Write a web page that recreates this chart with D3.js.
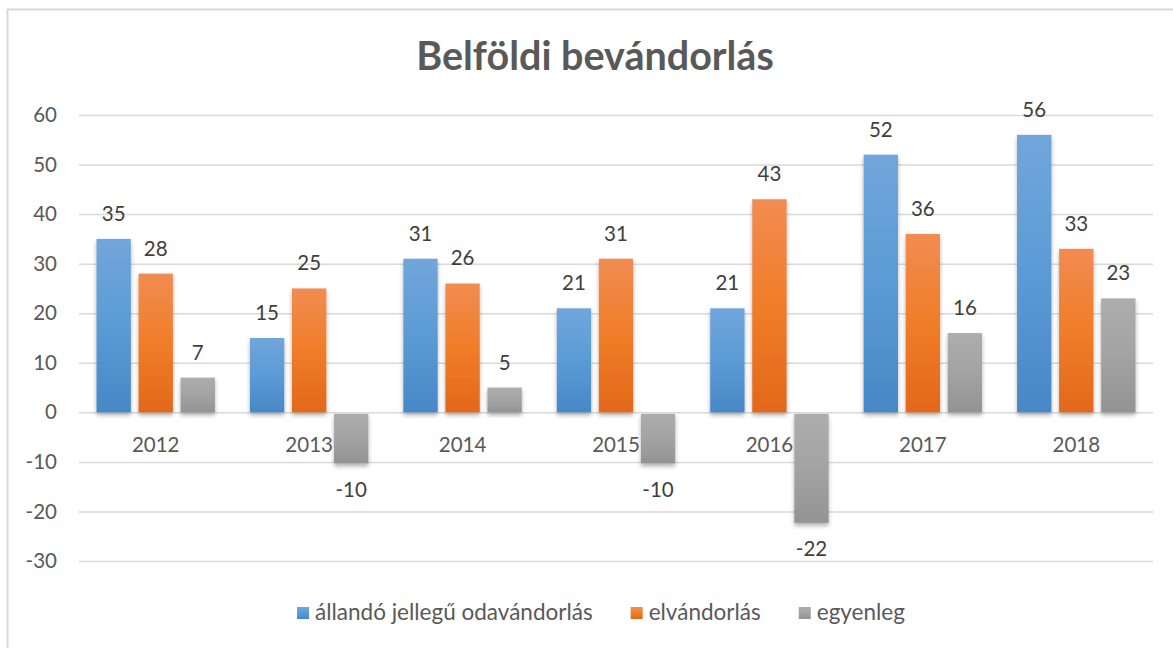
<!DOCTYPE html>
<html>
<head>
<meta charset="utf-8">
<script src="https://cdn.jsdelivr.net/npm/d3@7"></script>
<style>
  html, body { margin: 0; padding: 0; background: #fff; }
  svg { display: block; font-family: "Lato", "Open Sans", sans-serif; }
</style>
</head>
<body>
<div id="chart"></div>
<script>
const years = ["2012", "2013", "2014", "2015", "2016", "2017", "2018"];
const seriesNames = ["állandó jellegű odavándorlás", "elvándorlás", "egyenleg"];
const allando = [35, 15, 31, 21, 21, 52, 56];
const elvandorlas = [28, 25, 26, 31, 43, 36, 33];
const egyenleg = [7, -10, 5, -10, -22, 16, 23];
const yTicks = [-30, -20, -10, 0, 10, 20, 30, 40, 50, 60];

const seriesValues = [allando, elvandorlas, egyenleg];
// gradient stops (top, middle, bottom) per series
const colors = [
  ["#71a6db", "#5b9bd5", "#4887c6"],
  ["#f18c52", "#f07d28", "#e2681a"],
  ["#adadad", "#a3a3a3", "#939393"]
];

const width = 1173, height = 648;
const plotLeft = 79, plotRight = 1153;
const fontFamily = "Lato, 'Open Sans', sans-serif";

const svg = d3.select("#chart")
  .append("svg")
    .attr("width", width)
    .attr("height", height);

const defs = svg.append("defs");
colors.forEach((c, i) => {
  const g = defs.append("linearGradient")
    .attr("id", "grad" + i)
    .attr("x1", 0).attr("y1", 0).attr("x2", 0).attr("y2", 1);
  g.append("stop").attr("offset", "0%").attr("stop-color", c[0]);
  g.append("stop").attr("offset", "50%").attr("stop-color", c[1]);
  g.append("stop").attr("offset", "100%").attr("stop-color", c[2]);
});
defs.append("filter")
    .attr("id", "shadow")
    .attr("x", "-20%").attr("y", "-10%").attr("width", "140%").attr("height", "130%")
  .append("feDropShadow")
    .attr("dx", 0).attr("dy", 3)
    .attr("stdDeviation", 2)
    .attr("flood-color", "#000")
    .attr("flood-opacity", 0.3);

// chart border (right / bottom edges run off the picture)
svg.append("rect")
  .attr("x", 7.5).attr("y", 9.5)
  .attr("width", 1200).attr("height", 700)
  .attr("fill", "none")
  .attr("stroke", "#d9d9d9")
  .attr("stroke-width", 2);

svg.append("text")
  .attr("x", 595).attr("y", 70)
  .attr("text-anchor", "middle")
  .attr("font-size", "39.5px")
  .attr("font-weight", "700")
  .attr("fill", "#595959")
  .text("Belföldi bevándorlás");

const x0 = d3.scaleBand()
  .domain(years)
  .range([plotLeft, plotRight])
  .paddingInner(0.228)
  .paddingOuter(0.114);

const x1 = d3.scaleBand()
  .domain(d3.range(seriesNames.length))
  .range([0, x0.bandwidth()])
  .paddingInner(0.183);

const y = d3.scaleLinear()
  .domain([-30, 60])
  .range([561, 115]);

// gridlines + y labels
svg.append("g")
  .attr("transform", `translate(${plotLeft},0)`)
  .call(d3.axisLeft(y)
    .tickValues(yTicks)
    .tickFormat(d => String(d))
    .tickSize(-(plotRight - plotLeft))
    .tickPadding(22))
  .call(g => g.select(".domain").remove())
  .call(g => g.selectAll(".tick line").attr("stroke", "#d9d9d9").attr("stroke-width", 1.5))
  .call(g => g.selectAll(".tick text")
    .attr("fill", "#595959")
    .attr("font-size", "20.5px")
    .attr("font-family", fontFamily));

// category labels
svg.append("g")
  .attr("transform", `translate(0,${y(0)})`)
  .call(d3.axisBottom(x0).tickSize(0).tickPadding(25))
  .call(g => g.select(".domain").remove())
  .call(g => g.selectAll(".tick text")
    .attr("fill", "#595959")
    .attr("font-size", "20.5px")
    .attr("font-family", fontFamily));

const rows = [];
years.forEach((yr, i) => {
  seriesValues.forEach((vals, s) => rows.push({year: yr, s: s, v: vals[i]}));
});

svg.append("g")
  .selectAll("rect")
  .data(rows)
  .join("rect")
    .attr("x", d => x0(d.year) + x1(d.s))
    .attr("y", d => d.v >= 0 ? y(d.v) : y(0) + 1.5)
    .attr("width", x1.bandwidth())
    .attr("height", d => Math.abs(y(d.v) - y(0)))
    .attr("fill", d => `url(#grad${d.s})`)
    .attr("filter", "url(#shadow)");

svg.append("g")
  .selectAll("text")
  .data(rows)
  .join("text")
    .attr("x", d => x0(d.year) + x1(d.s) + x1.bandwidth() / 2)
    .attr("y", d => d.v >= 0 ? y(d.v) - 18 : y(d.v) + 35)
    .attr("text-anchor", "middle")
    .attr("font-size", "20.5px")
    .attr("fill", "#404040")
    .text(d => d.v);

// legend
const legend = svg.append("g");
const legendGap = 38;
let lx = 0;
seriesNames.forEach((name, i) => {
  const it = legend.append("g");
  it.append("rect")
    .attr("x", 0).attr("y", 607)
    .attr("width", 12).attr("height", 12)
    .attr("fill", `url(#grad${i})`);
  const t = it.append("text")
    .attr("x", 18).attr("y", 620)
    .attr("font-size", "22.5px")
    .attr("fill", "#595959")
    .text(name);
  const w = 18 + t.node().getComputedTextLength();
  it.attr("transform", `translate(${lx},0)`);
  lx += w + legendGap;
});
const legendW = lx - legendGap;
legend.attr("transform", `translate(${601 - legendW / 2},0)`);
</script>
</body>
</html>
